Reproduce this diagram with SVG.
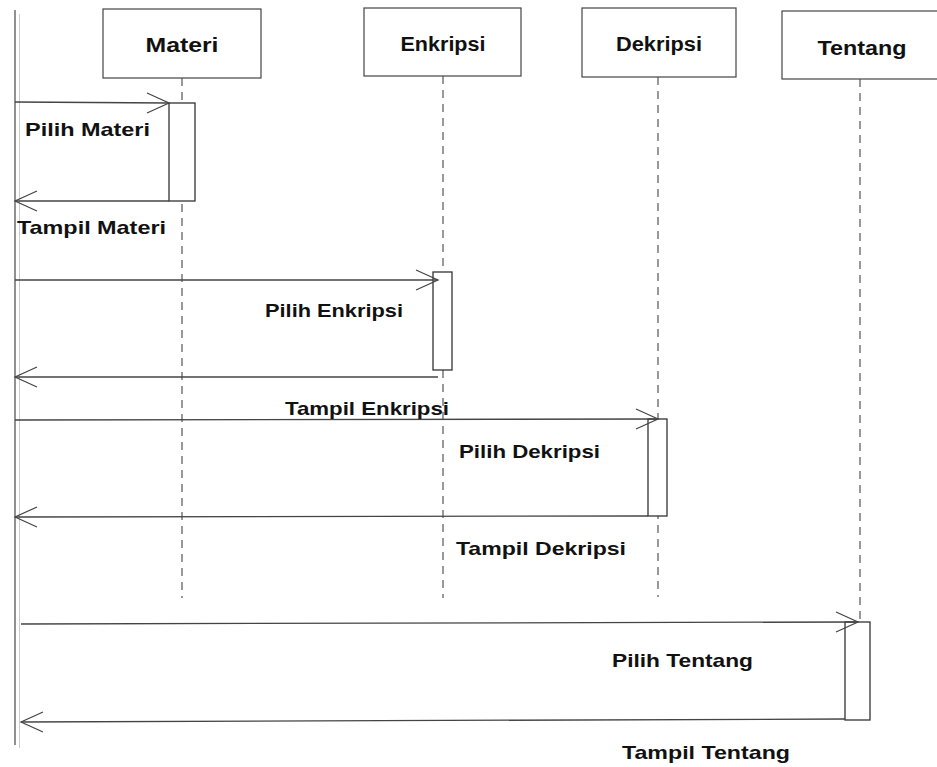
<svg xmlns="http://www.w3.org/2000/svg" width="937" height="767" viewBox="0 0 937 767">
<style>
.box{fill:#fff;stroke:#444;stroke-width:1.2}
.act{fill:#fff;stroke:#333;stroke-width:1.3}
.life{stroke:#555;stroke-width:1.2;stroke-dasharray:8,6;fill:none}
.msg{stroke:#444;stroke-width:1.3;fill:none}
.head{stroke:#444;stroke-width:1.2;fill:none}
text{font-family:"Liberation Sans",Arial,sans-serif;font-weight:bold;font-size:19px;fill:#111}
.hd{font-size:20px}
</style>
<rect width="937" height="767" fill="#fff"/>
<g id="actor-line">
<line x1="15" y1="10" x2="15" y2="745" stroke="#555" stroke-width="1.3"/>
<line x1="19.5" y1="14" x2="19.5" y2="748" stroke="#ccc" stroke-width="1"/>
</g>
<g id="materi">
<rect class="box" x="103" y="9" width="158" height="69"/>
<text class="hd" x="182" y="52" text-anchor="middle" textLength="73" lengthAdjust="spacingAndGlyphs">Materi</text>
<line class="life" x1="182" y1="78" x2="182" y2="598"/>
<rect class="act" x="169" y="103" width="26" height="98"/>
</g>
<g id="enkripsi">
<rect class="box" x="364" y="8" width="157" height="68"/>
<text class="hd" x="443" y="51" text-anchor="middle" textLength="85" lengthAdjust="spacingAndGlyphs">Enkripsi</text>
<line class="life" x1="443" y1="76" x2="443" y2="598"/>
<rect class="act" x="433" y="272" width="19" height="98"/>
</g>
<g id="dekripsi">
<rect class="box" x="582" y="8" width="154" height="69"/>
<text class="hd" x="659" y="51" text-anchor="middle" textLength="86" lengthAdjust="spacingAndGlyphs">Dekripsi</text>
<line class="life" x1="658" y1="77" x2="658" y2="597"/>
<rect class="act" x="648" y="419" width="19" height="97"/>
</g>
<g id="tentang">
<rect class="box" x="782" y="11" width="160" height="68"/>
<text class="hd" x="862" y="55" text-anchor="middle" textLength="89" lengthAdjust="spacingAndGlyphs">Tentang</text>
<line class="life" x1="860" y1="79" x2="860" y2="622"/>
<rect class="act" x="845" y="622" width="25" height="98"/>
</g>
<g id="connectors">
<line class="msg" x1="15" y1="102" x2="169" y2="103"/>
<polyline class="head" points="147,93 169,103 147,113"/>
<line class="msg" x1="169" y1="201" x2="15" y2="201"/>
<polyline class="head" points="37,191 15,201 37,211"/>
<line class="msg" x1="15" y1="280" x2="438" y2="280"/>
<polyline class="head" points="416,270 438,280 416,290"/>
<line class="msg" x1="438" y1="377" x2="15" y2="377"/>
<polyline class="head" points="37,367 15,377 37,387"/>
<line class="msg" x1="15" y1="420" x2="658" y2="419"/>
<polyline class="head" points="636,409 658,419 636,429"/>
<line class="msg" x1="648" y1="516" x2="15" y2="517"/>
<polyline class="head" points="37,507 15,517 37,527"/>
<line class="msg" x1="21" y1="624" x2="858" y2="622"/>
<polyline class="head" points="836,612 858,622 836,632"/>
<line class="msg" x1="845" y1="719" x2="21" y2="722"/>
<polyline class="head" points="43,712 21,722 43,732"/>
</g>
<g id="labels">
<text x="25" y="136" textLength="125" lengthAdjust="spacingAndGlyphs">Pilih Materi</text>
<text x="17" y="234" textLength="149" lengthAdjust="spacingAndGlyphs">Tampil Materi</text>
<text x="265" y="317" textLength="138" lengthAdjust="spacingAndGlyphs">Pilih Enkripsi</text>
<text x="285" y="415" textLength="164" lengthAdjust="spacingAndGlyphs">Tampil Enkripsi</text>
<text x="459" y="458" textLength="141" lengthAdjust="spacingAndGlyphs">Pilih Dekripsi</text>
<text x="456" y="555" textLength="170" lengthAdjust="spacingAndGlyphs">Tampil Dekripsi</text>
<text x="612" y="667" textLength="141" lengthAdjust="spacingAndGlyphs">Pilih Tentang</text>
<text x="622" y="759" textLength="168" lengthAdjust="spacingAndGlyphs">Tampil Tentang</text>
</g>
</svg>
